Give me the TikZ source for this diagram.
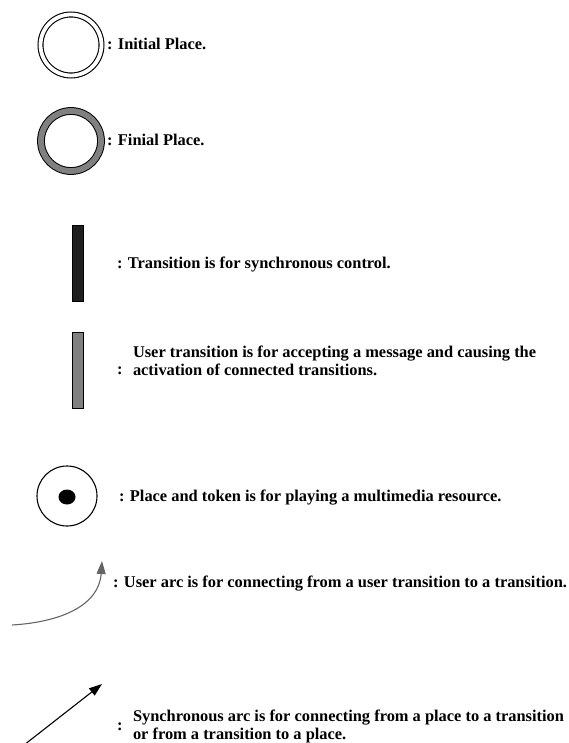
\documentclass[tikz,border=0pt]{standalone}
\usepackage{fontspec}
\setmainfont{Liberation Serif}
\usetikzlibrary{arrows.meta}
\begin{document}
\begin{tikzpicture}[x=1pt,y=-1pt,
  font=\fontsize{16.4}{18}\selectfont\bfseries,
  lbl/.style={anchor=base west, inner sep=0pt, outer sep=0pt},
  blk/.style={anchor=west, inner sep=0pt, outer sep=0pt, align=left},
  placeA/.style={circle, draw=black, line width=1.1pt, double=white, double distance=3.8pt, minimum size=61pt, inner sep=0pt},
  placeB/.style={circle, draw=black, line width=1pt, double={rgb,255:red,128;green,128;blue,128}, double distance=5.8pt, minimum size=60pt, inner sep=0pt},
  placeC/.style={circle, draw=black, line width=1.1pt, minimum size=60pt, inner sep=0pt},
  tokn/.style={ellipse, fill=black, minimum width=17pt, minimum height=15pt, inner sep=0pt},
  transA/.style={rectangle, draw=black, fill=black!88, minimum width=11pt, minimum height=76pt, inner sep=0pt},
  transB/.style={rectangle, draw=black, line width=0.8pt, fill={rgb,255:red,128;green,128;blue,128}, minimum width=11pt, minimum height=76pt, inner sep=0pt},
  uarc/.style={draw={rgb,255:red,100;green,100;blue,100}, line width=1.1pt, -{Triangle[length=13pt,width=9pt]}},
  sarc/.style={draw=black, line width=1.1pt, -{Triangle[length=13pt,width=9pt]}}
]
\useasboundingbox (0,0) rectangle (569,743);
\usetikzlibrary{shapes.geometric}

% initial place
\node[placeA] (ip) at (71,45) {};
\node[lbl] (tip) at (107,50) {: Initial Place.};

% final place
\node[placeB] (fp) at (71,141) {};
\node[lbl] (tfp) at (107,146) {: Finial Place.};

% synchronous transition
\node[transA] (st) at (78,263) {};
\node[lbl] (tst) at (117,268) {: Transition is for synchronous control.};

% user transition
\node[transB] (ut) at (78,370) {};
\node[lbl] (cut) at (117,374) {:};
\node[blk] (tut) at (133,361) {User transition is for accepting a message and causing the\\activation of connected transitions.};

% place with token
\node[placeC] (pt) at (67,496) {};
\node[tokn] (tk) at (67,497) {};
\node[lbl] (tpt) at (119,501) {: Place and token is for playing a multimedia resource.};

% user arc
\coordinate (ua1) at (12,625);
\coordinate (ua2) at (102,561);
\draw[uarc] (ua1) .. controls (62,622) and (99,605) .. (ua2);
\node[lbl] (tua) at (113,587) {: User arc is for connecting from a user transition to a transition.};

% synchronous arc
\coordinate (sa1) at (24,745);
\coordinate (sa2) at (102,684);
\draw[sarc] (sa1) -- (sa2);
\node[lbl] (csa) at (117,730) {:};
\node[blk] (tsa) at (133,726) {Synchronous arc is for connecting from a place to a transition\\or from a transition to a place.};
\end{tikzpicture}
\end{document}
